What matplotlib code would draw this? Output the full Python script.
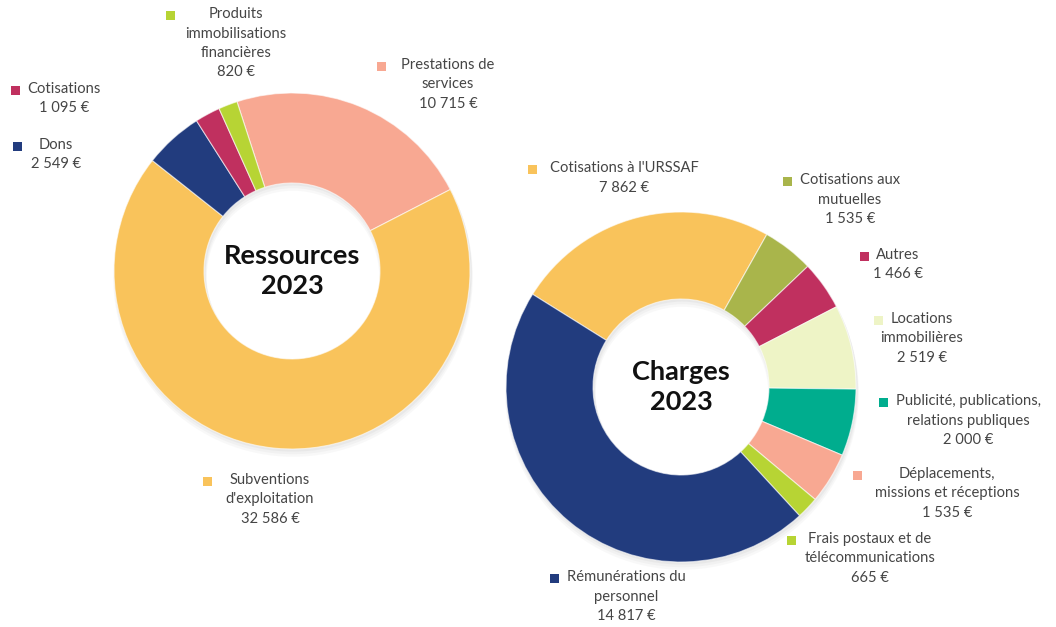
import matplotlib.pyplot as plt
from matplotlib.patches import Rectangle

plt.rcParams['font.family'] = ['Lato', 'DejaVu Sans']

# ---------------------------------------------------------------
# Données
res_labels = ["Prestations de\nservices", "Subventions\nd'exploitation", "Dons",
              "Cotisations", "Produits\nimmobilisations\nfinancières"]
res_values = [10715, 32586, 2549, 1095, 820]
res_colors = ["#F8A892", "#F9C35B", "#223C7E", "#C0305F", "#B7D434"]

chg_labels = ["Cotisations à l'URSSAF", "Cotisations aux\nmutuelles", "Autres",
              "Locations\nimmobilières", "Publicité, publications,\nrelations publiques",
              "Déplacements,\nmissions et réceptions", "Frais postaux et de\ntélécommunications",
              "Rémunérations du\npersonnel"]
chg_values = [7862, 1535, 1466, 2519, 2000, 1535, 665, 14817]
chg_colors = ["#F9C35B", "#A9B54B", "#C0305F", "#EEF4C6", "#00AD8E",
              "#F8A892", "#B7D434", "#223C7E"]

# position des étiquettes (pixels depuis le haut) : centre x du texte, haut du bloc, x max du carré
res_pos = [(448, 58, 381), (270, 473, 207), (56, 138, 17), (64, 82, 17), (236, 7, 170)]
chg_pos = [(624, 161, 532), (850, 173, 787), (898, 248, 864), (922, 312, 883),
           (968, 394, 884), (947, 467, 857), (870, 532, 791), (626, 570, 556)]

W, H = 1056, 627


def fmt(v):
    return f"{v:,}".replace(",", " ") + " €"


fig = plt.figure(figsize=(W / 100, H / 100), dpi=100)
ax = fig.add_axes([0, 0, 1, 1])
ax.set_xlim(0, W)
ax.set_ylim(0, H)
ax.axis('off')
renderer = fig.canvas.get_renderer()


def donut(values, colors, cx, cy, r, w, start, title):
    # ombre légère
    for k, a in [(6, 0.05), (4, 0.06), (2, 0.08)]:
        ax.pie([1], colors=['#888888'], center=(cx + 1, H - cy - k), radius=r + k * 0.3,
               wedgeprops=dict(width=w + k * 0.6, alpha=a, linewidth=0))
    ax.pie(values, colors=colors, center=(cx, H - cy), radius=r,
           startangle=start, counterclock=False,
           wedgeprops=dict(width=w, edgecolor=(1, 1, 1, 0.6), linewidth=0.8))
    ax.text(cx, H - cy, title, ha='center', va='center', fontsize=19.5,
            fontweight='bold', color='#111111', linespacing=1.3)


donut(res_values, res_colors, 292, 271, 178, 90, 108, "Ressources\n2023")
donut(chg_values, chg_colors, 681, 387, 175, 87, 148, "Charges\n2023")

FS = 10.6


def labels(names, values, colors, pos):
    for n, v, c, (tx, ty, mref) in zip(names, values, colors, pos):
        ax.text(tx, H - ty, n + "\n" + fmt(v), ha='center', va='top',
                multialignment='center', fontsize=FS, color='#454545', linespacing=1.5)
        # largeur de la première ligne pour placer le carré de couleur
        t = ax.text(0, 0, n.split("\n")[0], fontsize=FS)
        wpx = t.get_window_extent(renderer).width
        t.remove()
        mx = min(mref, tx - wpx / 2 - 12)
        my = H - ty - 8.5
        ax.add_patch(Rectangle((mx - 4.5, my - 4.5), 9, 9, facecolor=c, edgecolor='none'))


labels(res_labels, res_values, res_colors, res_pos)
labels(chg_labels, chg_values, chg_colors, chg_pos)

ax.set_aspect('equal')
ax.set_xlim(0, W)
ax.set_ylim(0, H)
fig.savefig("out.png", dpi=100)
